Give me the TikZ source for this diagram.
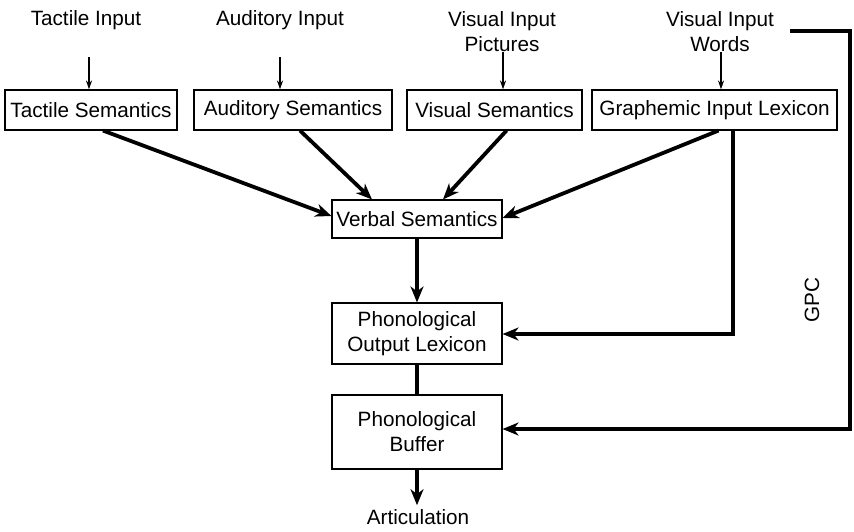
\documentclass[tikz,border=0pt]{standalone}
\usepackage{fontspec}
\setmainfont{Liberation Sans}
\usetikzlibrary{arrows.meta}
\begin{document}
\begin{tikzpicture}[x=1pt,y=-1pt,
  font=\fontsize{20.7}{25}\selectfont,
  box/.style={draw,line width=1.1pt,inner sep=0pt,align=center,minimum height=#1},
  box/.default=40pt,
  label/.style={align=center,inner sep=0pt},
  thinarrow/.style={line width=1.3pt,-{Stealth[length=9pt,width=6pt]}},
  thickarrow/.style={line width=3.8pt,-{Stealth[length=16pt,width=13pt,inset=5pt]}},
  thickline/.style={line width=3.8pt}]
\useasboundingbox (0,0) rectangle (854,531);

% input labels
\node[label] (ti) at (86,20) {Tactile Input};
\node[label] (ai) at (280,20) {Auditory Input};
\node[label] (vp) at (502,32) {Visual Input\\Pictures};
\node[label] (vw) at (720,32) {Visual Input\\Words};

% first-level boxes
\node[box,minimum width=172pt] (ts) at (91,110) {Tactile Semantics};
\node[box,minimum width=198pt] (as) at (293,110) {Auditory Semantics};
\node[box,minimum width=175pt] (vs) at (494.5,110) {Visual Semantics};
\node[box,minimum width=245pt] (gil) at (714.5,110) {Graphemic Input Lexicon};

% central pathway
\node[box=38pt,minimum width=170pt] (vb) at (417,219) {Verbal Semantics};
\node[box=61pt,minimum width=170pt] (pol) at (417,333.5) {Phonological\\Output Lexicon};
\node[box=74pt,minimum width=170pt] (pb) at (417,432) {Phonological\\Buffer};
\node[label] (art) at (418,517) {Articulation};

% thin input arrows
\coordinate (t0) at (89,57);
\coordinate (a0) at (280,57);
\coordinate (p0) at (503,52);
\coordinate (w0) at (721,52);
\draw[thinarrow] (t0) -- (t0 |- ts.north);
\draw[thinarrow] (a0) -- (a0 |- as.north);
\draw[thinarrow] (p0) -- (p0 |- vs.north);
\draw[thinarrow] (w0) -- (w0 |- gil.north);

% converging arrows onto verbal semantics
\draw[thickarrow] ([xshift=12pt]ts.south) -- ([yshift=3pt]vb.west);
\draw[thickarrow] ([xshift=7pt]as.south) -- ([xshift=-45pt]vb.north);
\draw[thickarrow] ([xshift=12pt]vs.south) -- ([xshift=26pt]vb.north);
\draw[thickarrow] ([xshift=4pt]gil.south) -- ([yshift=1pt]vb.east);

% vertical chain
\draw[thickarrow] (vb.south) -- (pol.north);
\draw[thickline] (pol.south) -- (pb.north);
\draw[thickarrow] (pb.south) -- ([yshift=4pt]pb.south |- art.north);

% lexical route from the graphemic lexicon
\coordinate (gdown) at (733,334);
\draw[thickarrow] ([xshift=18.5pt]gil.south) -- (gdown) -- (pol.east |- gdown);

% GPC route
\coordinate (gpc0) at (790,31);
\coordinate (gpc1) at (850,31);
\coordinate (gpc2) at (850,429);
\draw[thickarrow] (gpc0) -- (gpc1) -- (gpc2) -- (pb.east |- gpc2);
\node[label,rotate=90] (gpc) at (812,300) {GPC};
\end{tikzpicture}
\end{document}
